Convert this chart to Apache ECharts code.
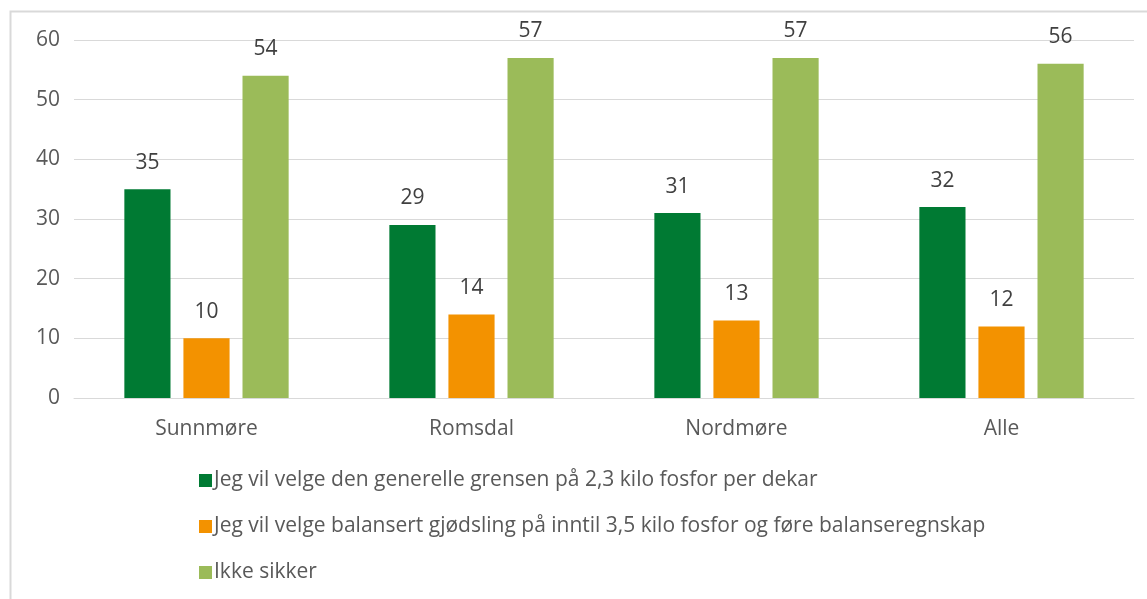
<!DOCTYPE html>
<html>
<head>
<meta charset="utf-8">
<style>
  html, body { margin: 0; padding: 0; background: #fff; }
  #chart { width: 1147px; height: 599px; }
</style>
<script src="https://cdn.jsdelivr.net/npm/echarts@6/dist/echarts.min.js"></script>
</head>
<body>
<div id="chart"></div>
<script>
// kategorier og verdier (prosent)
const regions = ['Sunnmøre', 'Romsdal', 'Nordmøre', 'Alle'];
const seriesNames = [
  'Jeg vil velge den generelle grensen på 2,3 kilo fosfor per dekar',
  'Jeg vil velge balansert gjødsling på inntil 3,5 kilo fosfor og føre balanseregnskap',
  'Ikke sikker'
];
const generell = [35, 29, 31, 32];
const balansert = [10, 14, 13, 12];
const ikkeSikker = [54, 57, 57, 56];
const colors = ['#007A33', '#F39200', '#9BBB59'];

const chart = echarts.init(document.getElementById('chart'));
const font = "'Open Sans', sans-serif";

const makeSeries = (name, data, color) => ({
  name,
  type: 'bar',
  data,
  barGap: '28%',
  barCategoryGap: '38%',
  itemStyle: { color },
  label: {
    show: true,
    position: 'top',
    distance: 16,
    color: '#404040',
    fontSize: 21,
    fontFamily: font
  }
});

chart.setOption({
  animation: false,
  textStyle: { fontFamily: font },
  graphic: [{
    type: 'rect',
    shape: { x: 10.5, y: 11.5, width: 1150, height: 600 },
    style: { fill: 'none', stroke: '#d9d9d9', lineWidth: 2 },
    silent: true
  }],
  grid: { left: 74, top: 40, width: 1060, height: 358 },
  legend: {
    orient: 'vertical',
    left: 194,
    top: 465,
    itemGap: 25,
    itemWidth: 13,
    itemHeight: 13,
    icon: 'rect',
    textStyle: { color: '#595959', fontSize: 21, fontFamily: font, padding: [0, 0, 0, -3] },
    data: seriesNames
  },
  xAxis: {
    type: 'category',
    data: regions,
    axisLine: { lineStyle: { color: '#d9d9d9', width: 1 } },
    axisTick: { show: false },
    axisLabel: { color: '#595959', fontSize: 21, margin: 21, fontFamily: font }
  },
  yAxis: {
    type: 'value',
    min: 0,
    max: 60,
    interval: 10,
    axisLine: { show: false },
    axisTick: { show: false },
    splitLine: { lineStyle: { color: '#d9d9d9', width: 1 } },
    axisLabel: { color: '#595959', fontSize: 21, margin: 14, fontFamily: font }
  },
  series: [
    makeSeries(seriesNames[0], generell, colors[0]),
    makeSeries(seriesNames[1], balansert, colors[1]),
    makeSeries(seriesNames[2], ikkeSikker, colors[2])
  ]
});
</script>
</body>
</html>
